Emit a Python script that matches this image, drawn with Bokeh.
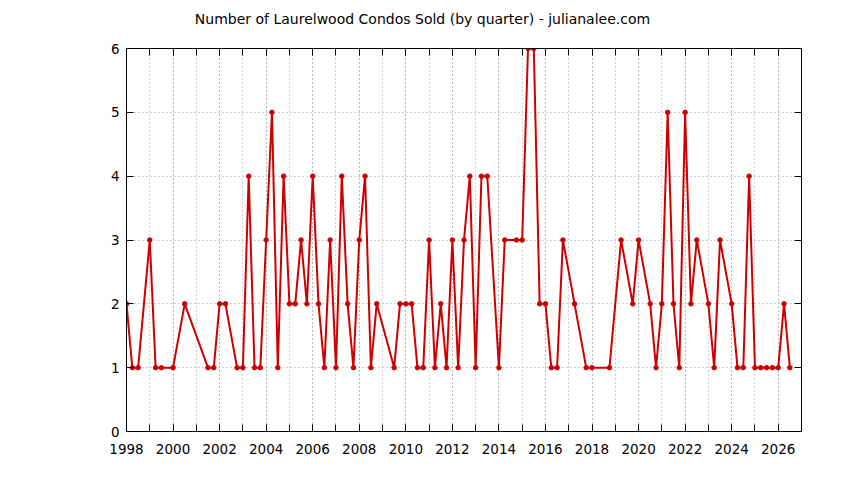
from bokeh.plotting import figure
from bokeh.models import (Range1d, FixedTicker, LinearAxis, ColumnDataSource,
                          CustomJSTickFormatter, Label)
from bokeh.embed import file_html
from bokeh.resources import INLINE

# Quarter of sale and number of condos sold in that quarter
quarters = [
    "1998Q1", "1998Q2", "1998Q3", "1999Q1", "1999Q2", "1999Q3", "2000Q1", "2000Q3",
    "2001Q3", "2001Q4", "2002Q1", "2002Q2", "2002Q4", "2003Q1", "2003Q2", "2003Q3",
    "2003Q4", "2004Q1", "2004Q2", "2004Q3", "2004Q4", "2005Q1", "2005Q2", "2005Q3",
    "2005Q4", "2006Q1", "2006Q2", "2006Q3", "2006Q4", "2007Q1", "2007Q2", "2007Q3",
    "2007Q4", "2008Q1", "2008Q2", "2008Q3", "2008Q4", "2009Q3", "2009Q4", "2010Q1",
    "2010Q2", "2010Q3", "2010Q4", "2011Q1", "2011Q2", "2011Q3", "2011Q4", "2012Q1",
    "2012Q2", "2012Q3", "2012Q4", "2013Q1", "2013Q2", "2013Q3", "2014Q1", "2014Q2",
    "2014Q4", "2015Q1", "2015Q2", "2015Q3", "2015Q4", "2016Q1", "2016Q2", "2016Q3",
    "2016Q4", "2017Q2", "2017Q4", "2018Q1", "2018Q4", "2019Q2", "2019Q4", "2020Q1",
    "2020Q3", "2020Q4", "2021Q1", "2021Q2", "2021Q3", "2021Q4", "2022Q1", "2022Q2",
    "2022Q3", "2023Q1", "2023Q2", "2023Q3", "2024Q1", "2024Q2", "2024Q3", "2024Q4",
    "2025Q1", "2025Q2", "2025Q3", "2025Q4", "2026Q1", "2026Q2", "2026Q3",
]
sold = [
    2, 1, 1, 3, 1, 1, 1, 2,
    1, 1, 2, 2, 1, 1, 4, 1,
    1, 3, 5, 1, 4, 2, 2, 3,
    2, 4, 2, 1, 3, 1, 4, 2,
    1, 3, 4, 1, 2, 1, 2, 2,
    2, 1, 1, 3, 1, 2, 1, 3,
    1, 3, 4, 1, 4, 4, 1, 3,
    3, 3, 6, 6, 2, 2, 1, 1,
    3, 2, 1, 1, 1, 3, 2, 3,
    2, 1, 2, 5, 2, 1, 5, 2,
    3, 2, 1, 3, 2, 1, 1, 4,
    1, 1, 1, 1, 1, 2, 1,
]

labeled_years = list(range(1998, 2027, 2))
all_years = list(range(1998, 2028))
count_ticks = [0, 1, 2, 3, 4, 5, 6]
title_text = "Number of Laurelwood Condos Sold (by quarter) - julianalee.com"

x = [int(q[:4]) + (int(q[-1]) - 1) / 4 for q in quarters]
src = ColumnDataSource(dict(x=x, y=sold))

FONT = "DejaVu Sans"
RED = "#cc0000"
GRID = "#a0a0a0"

p = figure(width=828, height=464, output_backend="svg", toolbar_location=None,
           x_range=Range1d(1998, 2027), y_range=Range1d(0, 6),
           min_border_left=126, min_border_right=27,
           min_border_top=48, min_border_bottom=33,
           background_fill_color="white", border_fill_color="white")

p.outline_line_color = "black"
p.outline_line_width = 1

xticker = FixedTicker(ticks=labeled_years, minor_ticks=all_years)
yticker = FixedTicker(ticks=count_ticks, minor_ticks=[])

for ax in (p.xaxis[0], p.yaxis[0]):
    ax.major_label_text_font = FONT
    ax.major_label_text_font_size = "13.5px"
    ax.major_label_text_color = "black"
    ax.axis_line_color = "black"
    ax.major_tick_line_color = "black"
    ax.minor_tick_line_color = "black"
    ax.major_tick_in = 7
    ax.major_tick_out = 0
    ax.minor_tick_in = 7
    ax.minor_tick_out = 0

p.xaxis[0].ticker = xticker
p.yaxis[0].ticker = yticker
p.xaxis[0].major_label_standoff = 12
p.yaxis[0].major_label_standoff = 7

# mirrored tick marks on right and top (no labels)
blank = CustomJSTickFormatter(code="return ''")
rax = LinearAxis(ticker=yticker, formatter=blank,
                 major_tick_in=7, major_tick_out=0, minor_tick_in=0, minor_tick_out=0,
                 axis_line_color="black", major_tick_line_color="black",
                 major_label_standoff=0)
tax = LinearAxis(ticker=xticker, formatter=blank,
                 major_tick_in=7, major_tick_out=0, minor_tick_in=7, minor_tick_out=0,
                 axis_line_color="black", major_tick_line_color="black",
                 minor_tick_line_color="black", major_label_standoff=0)
p.add_layout(rax, "right")
p.add_layout(tax, "above")

# chart title, centred on the canvas, placed in the top panel
p.add_layout(Label(x=296, y=30, x_units="screen", y_units="screen",
                   text=title_text, text_font=FONT, text_font_size="14px",
                   text_color="black", text_align="center", text_baseline="middle"),
             "above")

p.xgrid.ticker = xticker
p.ygrid.ticker = yticker
p.xgrid.grid_line_color = GRID
p.xgrid.grid_line_dash = "1 3"
p.xgrid.minor_grid_line_color = GRID
p.xgrid.minor_grid_line_dash = "1 3"
p.ygrid.grid_line_color = GRID
p.ygrid.grid_line_dash = "1 3"

p.line("x", "y", source=src, line_color=RED, line_width=2)
p.scatter("x", "y", source=src, marker="circle", size=4.5, fill_color=RED, line_color=RED)

open("out.html", "w").write(file_html(p, INLINE))
